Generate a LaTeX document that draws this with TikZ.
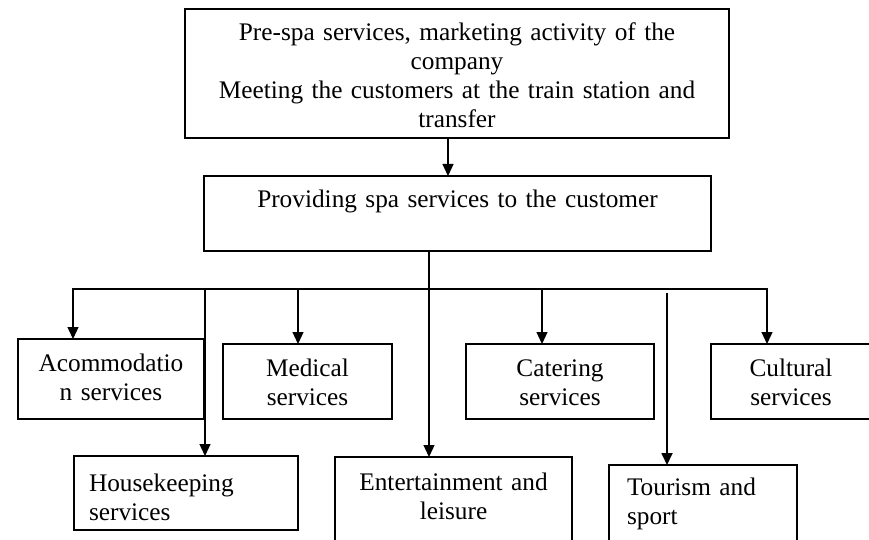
\documentclass[tikz,border=0pt]{standalone}
\usepackage{fontspec}
\setmainfont{Liberation Serif}
\usetikzlibrary{arrows.meta}
\tikzset{
  box/.style={draw, line width=1.1pt, inner sep=0pt, outer sep=0pt,
    anchor=north west, font=\fontsize{25.3pt}{29pt}\selectfont},
  tip/.tip={Triangle[length=12pt,width=11pt]},
  arr/.style={-tip, line width=1.3pt}
}
\begin{document}
\begin{tikzpicture}[x=1pt,y=-1pt]
      \useasboundingbox (0,0) rectangle (869,540);
      \draw
        (185,9) node[box, text width=544pt, align=center, text height=31.5pt, text depth=97.5pt] (top)
          {Pre-spa services, marketing activity of the\\company\\Meeting the customers at the train station and\\transfer}
        (204,176) node[box, text width=507pt, align=center, text height=31.5pt, text depth=43.5pt] (prov)
          {Providing spa services to the customer}
        (18,339) node[box, text width=186pt, align=center, text height=32pt, text depth=48pt] (acc)
          {Acommodatio\\n services}
        (223,344) node[box, text width=169pt, align=center, text height=32pt, text depth=43pt] (med)
          {Medical\\services}
        (466,344) node[box, text width=188pt, align=center, text height=32pt, text depth=43pt] (cat)
          {Catering\\services}
        (711,344) node[box, text width=160pt, align=center, text height=32pt, text depth=43pt] (cult)
          {Cultural\\services}
        (74,456) node[box, inner xsep=15pt, text width=194pt, align=left, text height=35pt, text depth=39pt] (house)
          {Housekeeping\\services}
        (335,457) node[box, text width=237pt, align=center, text height=33pt, text depth=52pt] (ent)
          {Entertainment and\\leisure}
        (609,465) node[box, inner xsep=18pt, text width=152pt, align=left, text height=30pt, text depth=47pt] (tour)
          {Tourism and\\sport};
      \coordinate (drop) at ([xshift=-9pt]top.south);
      \coordinate (j0) at (73,289);
      \coordinate (j1) at (205,289);
      \coordinate (j2) at (298,289);
      \coordinate (j3) at (429,289);
      \coordinate (j4) at (542,289);
      \coordinate (j5) at (767,289);
      \coordinate (t0) at (667,293);
      \begin{scope}[line width=1.3pt]
        \draw[arr] (drop) -- (drop |- prov.north);
        \draw (prov.south -| j3) -- (j3);
        \draw[tip-tip, line join=miter] (j0 |- acc.north) -- (j0) -- (j5) -- (j5 |- cult.north);
        \foreach \j/\n in {j1/house, j2/med, j3/ent, j4/cat}
          \draw[arr] (\j) -- (\j |- \n.north);
        \draw[arr, line width=1.8pt] (t0) -- (t0 |- tour.north);
      \end{scope}
    \end{tikzpicture}
\end{document}
